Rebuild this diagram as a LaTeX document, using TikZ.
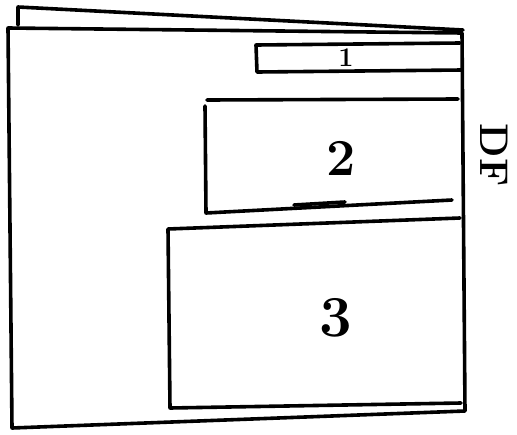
\documentclass[tikz,border=0pt]{standalone}
\usepackage{tikz}

\begin{document}
\begin{tikzpicture}[x=1pt,y=-1pt,line width=3.6pt,line cap=round,line join=round]
        \useasboundingbox (0,0) rectangle (517,434);

        % corners of the two sheets
        \coordinate (s0) at (18,25);
        \coordinate (s1) at (18,7);
        \coordinate (s2) at (463,30);
        \coordinate (f0) at (8,28);
        \coordinate (f1) at (462,33);
        \coordinate (f2) at (465,411);
        \coordinate (f3) at (12,428);

        \draw (s0) -- (s1) -- (s2);
        \draw (f0) -- (f1) -- (f2) -- (f3) -- cycle;

        % box 1
        \coordinate (a0) at (256,45);
        \coordinate (a1) at (460,43);
        \coordinate (a2) at (257,72);
        \coordinate (a3) at (462,70);
        \draw (a1) -- (a0) -- (a2) -- (a3);
        \node[font=\fontsize{27}{27}\selectfont\bfseries] (lbl1) at (346,58) {1};

        % box 2
        \coordinate (b0) at (207,100);
        \coordinate (b1) at (458,99);
        \coordinate (b2) at (206,213);
        \coordinate (b3) at (452,200);
        \draw (b1) -- (b0);
        \draw (205,106) -- (b2) -- (b3);
        \draw (294,205) -- (345,202);
        \node[font=\fontsize{52}{52}\selectfont\bfseries] (lbl2) at (341,158) {2};

        % box 3
        \coordinate (c0) at (168,229);
        \coordinate (c1) at (460,218);
        \coordinate (c2) at (170,408);
        \coordinate (c3) at (461,403);
        \draw (c1) -- (c0) -- (c2) -- (c3);
        \node[font=\fontsize{58}{58}\selectfont\bfseries] (lbl3) at (336,318) {3};

        % side label
        \node[rotate=-90,font=\fontsize{40}{40}\selectfont\bfseries] (lblDF) at (494,155) {DF};
\end{tikzpicture}
\end{document}
